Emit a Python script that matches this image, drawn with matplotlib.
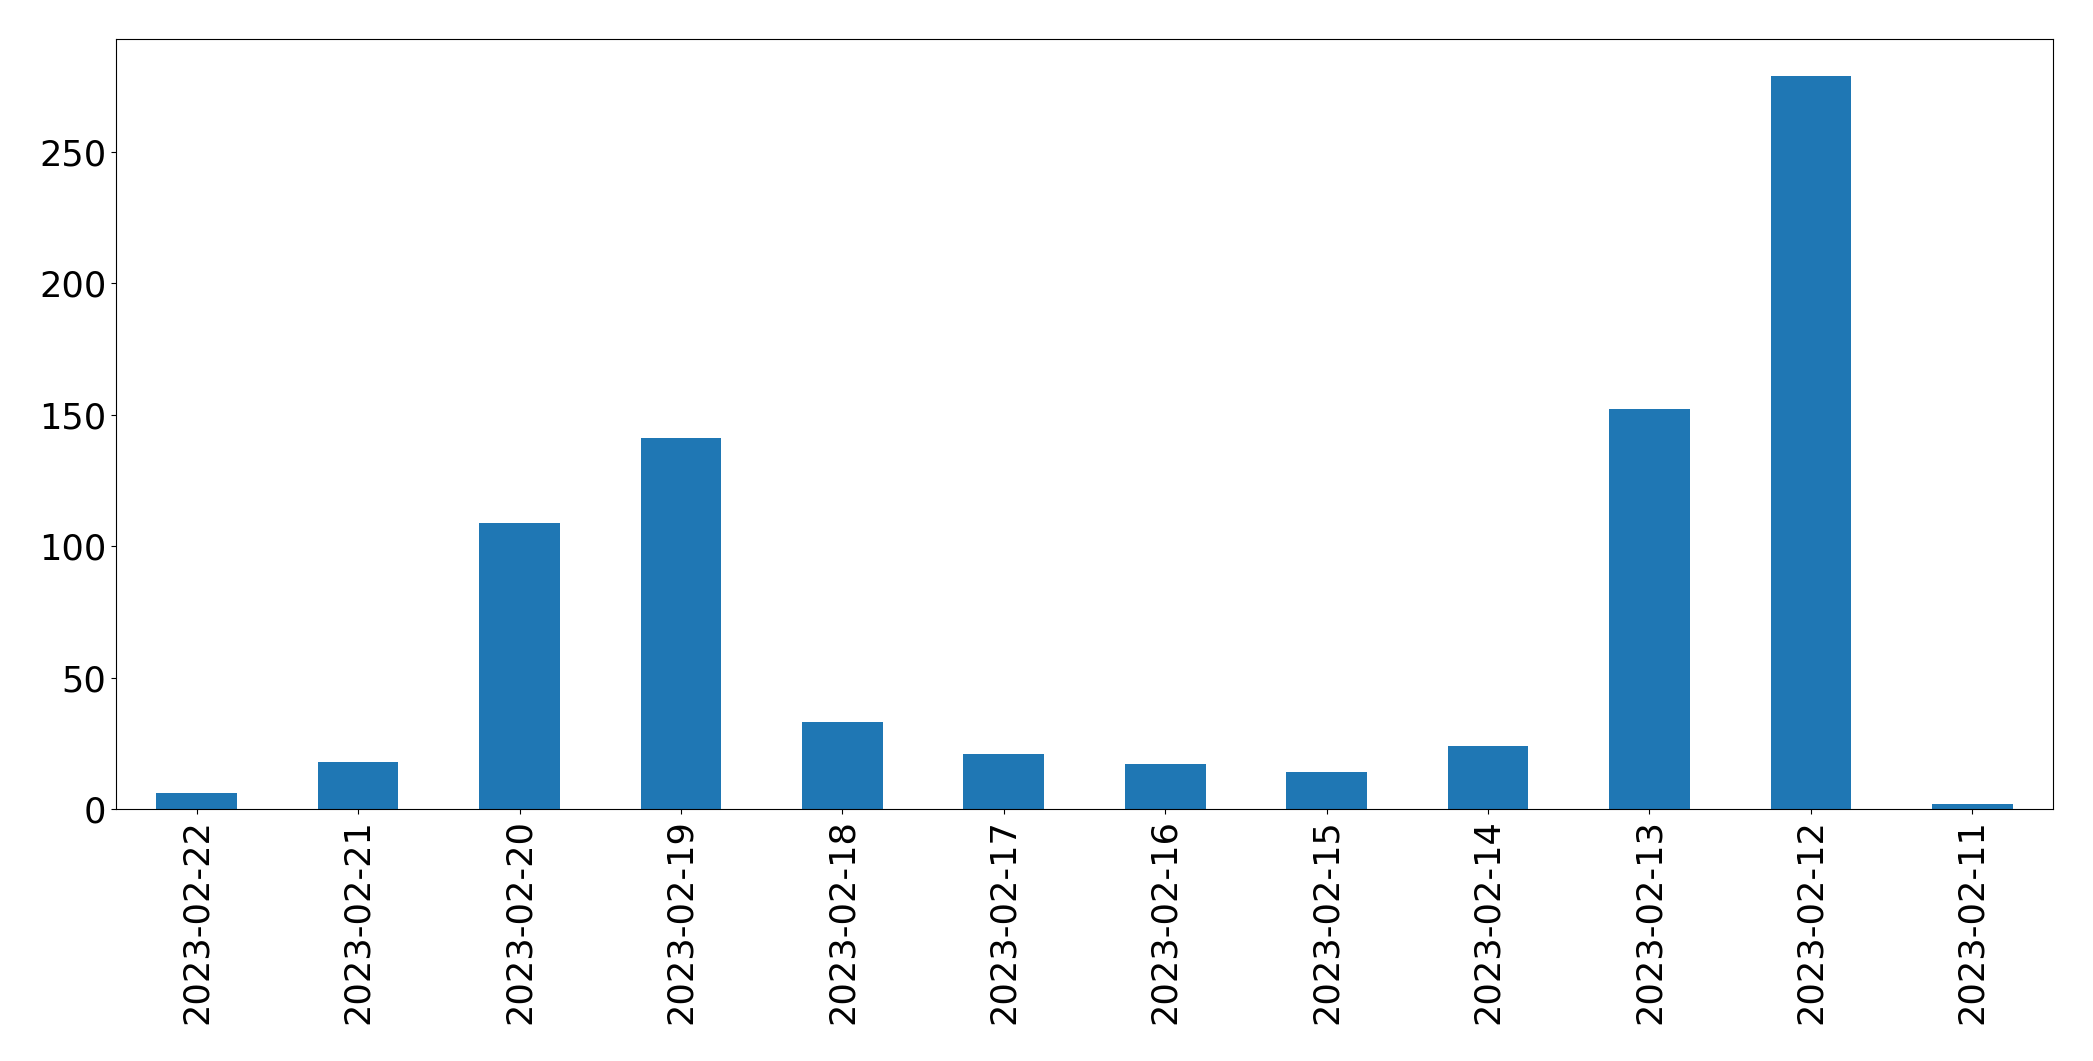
import matplotlib
matplotlib.use("Agg")
import matplotlib.pyplot as plt

dates = ["2023-02-22", "2023-02-21", "2023-02-20", "2023-02-19", "2023-02-18",
         "2023-02-17", "2023-02-16", "2023-02-15", "2023-02-14", "2023-02-13",
         "2023-02-12", "2023-02-11"]
counts = [6, 18, 109, 141, 33, 21, 17, 14, 24, 152, 279, 2]

fig = plt.figure(figsize=(20.93, 10.61), dpi=100)
ax = fig.add_axes([116 / 2093, 1 - 809 / 1061, (2053 - 116) / 2093, (809 - 39) / 1061])
x = list(range(len(dates)))
ax.bar(x, counts, width=0.5, color="#1f77b4")
ax.set_xlim(-0.5, len(dates) - 0.5)
ax.set_ylim(0, max(counts) * 1.05)
ax.set_xticks(x)
ax.set_xticklabels(dates, rotation=90)
ax.tick_params(axis="both", labelsize=25.3)
fig.savefig("out.png", dpi=100)
